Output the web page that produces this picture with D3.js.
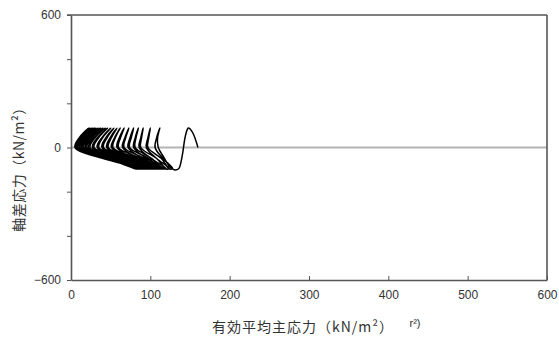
<!DOCTYPE html>
<html>
<head>
<meta charset="utf-8">
<script src="https://cdn.jsdelivr.net/npm/d3@7"></script>
<style>
  body { margin: 0; background: #fff; }
  text { font-family: "Liberation Sans", Arial, sans-serif; fill: #333; }
  .jp { font-family: "Noto Sans CJK JP", sans-serif; }
</style>
</head>
<body>
<div id="chart"></div>
<script>
// axis values
const xTickValues = [0, 100, 200, 300, 400, 500, 600];
const yTickValues = [-600, -400, -200, 0, 200, 400, 600];
const yTickLabels = [-600, 0, 600];

// effective stress path [p', q]
const stressPath = [
    [160,0],[157,35],[153,70],[148,88],[145,65],[143,30],[141,-20],[139,-60],[136,-95],[130,-101],[124,-85],[117,-45],[110,0],[109,40],[111,75],
    [112,88],[108,45],[106,0],[116,-50],[128,-95],[124,-97],[114,-50],[97,0],[98,45],
    [100,88],[97,45],[95,0],[108,-50],[124,-95],[120,-97],[108,-50],[88,0],[89,45],
    [91,88],[88,45],[86,0],[101,-50],[120,-95],[116,-97],[102,-50],[81,0],[82,45],
    [85,88],[81,45],[79,0],[96,-50],[117,-95],[113,-97],[98,-50],[74,0],[76,45],
    [79,88],[74.5,45],[72,0],[91,-50],[114,-95],[110,-97],[93,-50],[67,0],[69,45],
    [73,88],[68,45],[65,0],[86,-50],[111,-95],[107,-97],[88,-50],[60,0],[62.5,45],
    [67,88],[61,45],[58,0],[80.5,-50],[108,-95],[104,-97],[83,-50],[53,0],[56,45],
    [62,88],[55,45],[51,0],[76,-50],[106,-95],[102,-97],[79.5,-50],[47,0],[51,45],
    [58,88],[49.5,45],[45,0],[71.5,-50],[104,-95],[100,-97],[75.5,-50],[41,0],[45.5,45],
    [54,88],[44,45],[39,0],[67.5,-50],[102,-95],[98,-97],[72,-50],[35,0],[40,45],
    [50,88],[39,45],[33,0],[63,-50],[100,-95],[96,-97],[68,-50],[29,0],[35,45],
    [46,88],[33.5,45],[27,0],[59,-50],[98,-95],[94,-97],[64.5,-50],[24,0],[30.5,45],
    [43,88],[29.5,45],[22,0],[55.5,-50],[96,-95],[92,-97],[62,-50],[20,0],[27,45],
    [40,88],[25.5,45],[18,0],[52,-50],[94,-95],[90,-97],[59,-50],[16,0],[23.5,45],
    [37,88],[22,45],[14,0],[49.5,-50],[93,-95],[89,-97],[57,-50],[13,0],[20.5,45],
    [34,88],[19,45],[11,0],[47.5,-50],[92,-95],[88,-97],[55.5,-50],[11,0],[18,45],
    [31,88],[16.5,45],[9,0],[46,-50],[91,-95],[87,-97],[54,-50],[9,0],[16,45],
    [29,88],[14.5,45],[7,0],[44.5,-50],[90,-95],[86,-97],[53,-50],[8,0],[14.5,45],
    [27,88],[13.5,45],[6,0],[43.5,-50],[89,-95],[85,-97],[52,-50],[7,0],[13.5,45],
    [25,88],[12.5,45],[5.5,0],[42.5,-50],[88,-95],[84,-97],[51,-50],[6,0],[12,45],
    [23,88],[11,45],[5,0],[42.5,-50],[88,-95],[84,-97],[50,-50],[5.5,0],[12,45],
    [24,88],[12,45],[5,0],[41,-50],[87,-95],[83,-97],[49,-50],[5,0],[11,45],
    [22,88],[10.5,45],[5,0],[41.5,-50],[86,-95],[82,-97],[48,-50],[5,0],[11,45],
    [23,88],[11.5,45],[5,0],[40.5,-50],[87,-95],[83,-97],[47,-50],[5,0]
];

const width = 559, height = 340;
const margin = {top: 15, right: 12, bottom: 60, left: 71};
const innerW = width - margin.left - margin.right;
const innerH = height - margin.top - margin.bottom;

const svg = d3.select("#chart").append("svg")
    .attr("width", width)
    .attr("height", height);

const g = svg.append("g")
    .attr("transform", `translate(${margin.left},${margin.top})`);

const x = d3.scaleLinear().domain([0, 600]).range([0, innerW]);
const y = d3.scaleLinear().domain([-600, 600]).range([innerH, 0]);

// zero line
g.append("line")
    .attr("x1", 0).attr("x2", innerW)
    .attr("y1", y(0)).attr("y2", y(0))
    .attr("stroke", "#b4b4b4")
    .attr("stroke-width", 2);

// stress path
const line = d3.line()
    .x(d => x(d[0]))
    .y(d => y(d[1]))
    .curve(d3.curveCatmullRom.alpha(0.5));

g.append("path")
    .datum(stressPath)
    .attr("d", line)
    .attr("fill", "none")
    .attr("stroke", "#000")
    .attr("stroke-width", 1.5);

// x axis (ticks inside)
const xAxis = g.append("g")
    .attr("transform", `translate(0,${innerH})`)
    .call(d3.axisBottom(x).tickValues(xTickValues).tickSizeInner(-4).tickSizeOuter(0).tickPadding(10));

// y axis
const yAxis = g.append("g")
    .call(d3.axisLeft(y).tickValues(yTickValues).tickSizeInner(4).tickSizeOuter(0).tickPadding(6)
        .tickFormat(d => yTickLabels.includes(d) ? (d < 0 ? "\u2212" + Math.abs(d) : d) : ""));

[xAxis, yAxis].forEach(a => {
    a.select(".domain").attr("stroke", "#555").attr("stroke-width", 1.6);
    a.selectAll(".tick line").attr("stroke", "#555");
    a.selectAll(".tick text").style("font-size", "12px").attr("fill", "#333");
});

// frame top and right
g.append("line")
    .attr("x1", -4).attr("x2", innerW).attr("y1", 0).attr("y2", 0)
    .attr("stroke", "#555").attr("stroke-width", 1.6);
g.append("line")
    .attr("x1", innerW).attr("x2", innerW).attr("y1", 0).attr("y2", innerH)
    .attr("stroke", "#555").attr("stroke-width", 1.6);

// axis titles
svg.append("text")
    .attr("class", "jp")
    .attr("x", 303)
    .attr("y", 332)
    .attr("text-anchor", "middle")
    .style("font-size", "14px")
    .style("letter-spacing", "1px")
    .text("有効平均主応力（kN/m²）");

svg.append("text")
    .attr("x", 415)
    .attr("y", 327)
    .attr("text-anchor", "middle")
    .style("font-size", "11px")
    .text("r²)");

svg.append("text")
    .attr("class", "jp")
    .attr("transform", `translate(24,166) rotate(-90)`)
    .attr("text-anchor", "middle")
    .style("font-size", "14px")
    .style("letter-spacing", "0.5px")
    .text("軸差応力（kN/m²）");
</script>
</body>
</html>
